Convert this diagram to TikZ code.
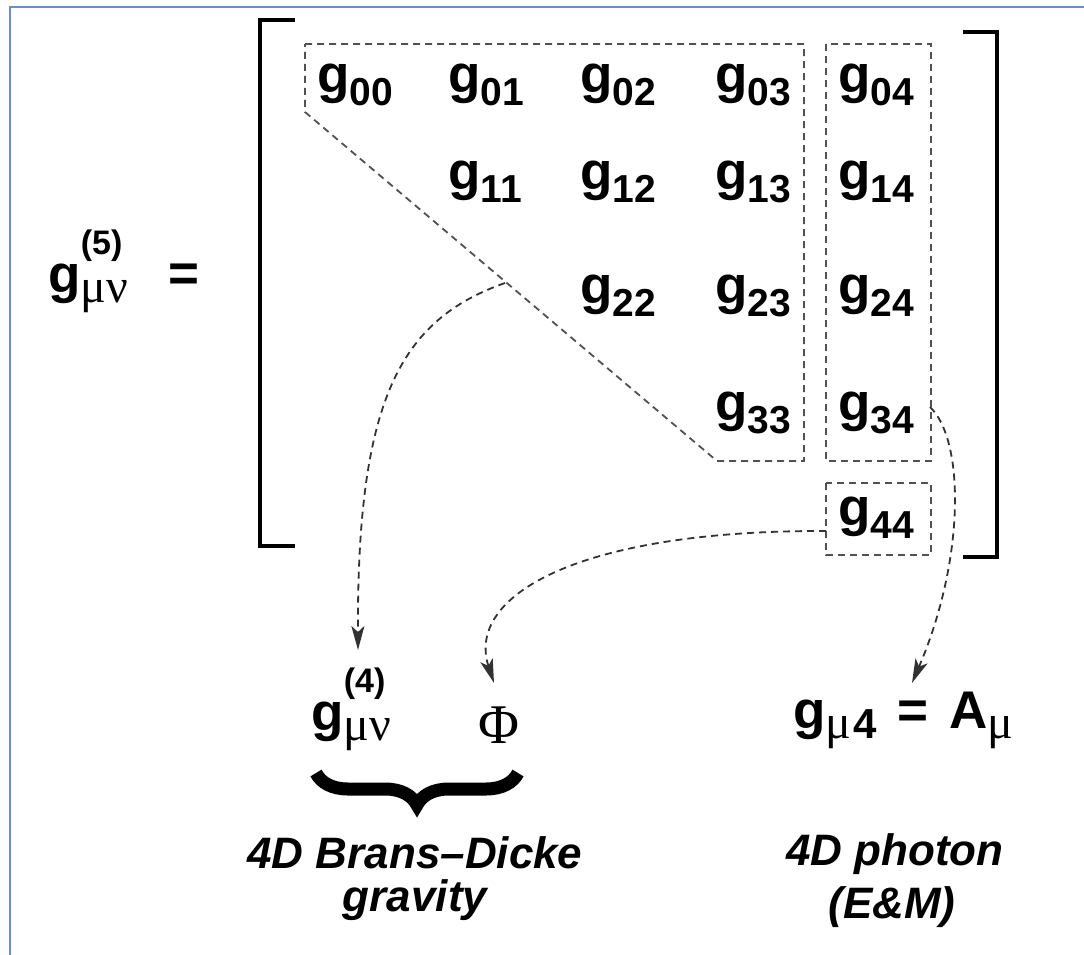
\documentclass[tikz,border=0pt]{standalone}
\usepackage{fontspec}
\setmainfont{Liberation Sans}
\newfontfamily\greekfont{Liberation Serif}
\usetikzlibrary{arrows.meta,decorations.pathreplacing}
\definecolor{frameblue}{RGB}{110,140,210}
\definecolor{dashgray}{RGB}{50,50,50}
\newcommand{\gel}[1]{g\raisebox{-0.26em}{\fontsize{19.5}{20}\selectfont #1}}
\newcommand{\gmn}[3]{g\rlap{\raisebox{#3}{\fontsize{#2}{#2}\selectfont (#1)}}\raisebox{-0.2em}{\fontsize{24}{24}\greekfont\mdseries μν}}
\tikzset{
  entry/.style={anchor=base west, inner sep=0pt, font=\fontsize{26.5}{30}\selectfont\bfseries},
  region/.style={draw=dashgray!85, dash pattern=on 3.5pt off 2.5pt, line width=0.9pt},
  link/.style={draw=dashgray, dash pattern=on 3.5pt off 2.5pt, line width=0.9pt,
               -{Stealth[length=12pt,width=6.5pt,inset=3pt]}},
  bracketline/.style={line width=2pt},
  caption/.style={anchor=base, inner sep=0pt, font=\fontsize{22}{22}\selectfont\bfseries\itshape},
}
\begin{document}
\begin{tikzpicture}[x=0.5pt,y=-0.5pt]
\useasboundingbox (0,0) rectangle (1084,955);
% frame
\draw[frameblue, line width=1pt] (10,955) -- (10,7) -- (1084,7);
% brackets
\draw[bracketline] (295,20) -- (260,20) -- (260,546) -- (295,546);
\draw[bracketline] (963,32) -- (997,32) -- (997,557) -- (963,557);
% dashed regions
\draw[region] (305,44) -- (804,44) -- (804,461) -- (717,461) -- (305,112) -- cycle;
\draw[region] (826,44) rectangle (931,461);
\draw[region] (826,483) rectangle (931,555);
% left side
\node[entry] (g5) at (48,292) {\gmn{5}{17}{19pt}};
\node[entry, anchor=base] (eq) at (184,291) {=};
% matrix entries
\node[entry] (g00) at (317,92) {\gel{00}};
\node[entry] (g01) at (448,92) {\gel{01}};
\node[entry] (g02) at (580,92) {\gel{02}};
\node[entry] (g03) at (715,92) {\gel{03}};
\node[entry] (g04) at (838,92) {\gel{04}};
\node[entry] (g11) at (448,189) {\gel{11}};
\node[entry] (g12) at (580,189) {\gel{12}};
\node[entry] (g13) at (715,189) {\gel{13}};
\node[entry] (g14) at (838,189) {\gel{14}};
\node[entry] (g22) at (580,303) {\gel{22}};
\node[entry] (g23) at (715,303) {\gel{23}};
\node[entry] (g24) at (838,303) {\gel{24}};
\node[entry] (g33) at (715,420) {\gel{33}};
\node[entry] (g34) at (838,420) {\gel{34}};
\node[entry] (g44) at (838,525) {\gel{44}};
% bottom fields
\node[entry] (g4) at (311,730) {\gmn{4}{17}{19pt}};
\node[anchor=base, inner sep=0pt, font=\fontsize{28}{28}\selectfont\greekfont] (phi) at (499,743) {Φ};
\node[entry] (amu) at (793,728) {g\raisebox{-0.2em}{\fontsize{24}{24}\selectfont{\greekfont\mdseries μ}\hspace{1pt}\fontsize{21}{21}\selectfont 4}\hspace{3pt} = \hspace{3pt}A\raisebox{-0.2em}{\fontsize{24}{24}\selectfont\greekfont\mdseries μ}};
% brace
\draw[line width=6.5pt, decorate, decoration={brace, mirror, amplitude=16pt}] (316,773) -- (518,773);
% captions
\node[caption] (bd1) at (415,868) {4D Brans–Dicke};
\node[caption] (bd2) at (415,911) {gravity};
\node[caption] (ph1) at (895,865) {4D photon};
\node[caption] (ph2) at (892,918) {(E\&M)};
% connectors
\coordinate (diagpt) at (505,283);
\coordinate (tipA) at (358,650);
\draw[link] (diagpt) .. controls (400,320) and (357,400) .. (tipA);
\coordinate (g44w) at (826,531);
\coordinate (tipB) at (494,683);
\draw[link] (g44w) .. controls (580,530) and (465,595) .. (tipB);
\coordinate (g34e) at (930,407);
\coordinate (tipC) at (912,683);
\draw[link] (g34e) .. controls (965,440) and (965,560) .. (tipC);
\end{tikzpicture}
\end{document}
